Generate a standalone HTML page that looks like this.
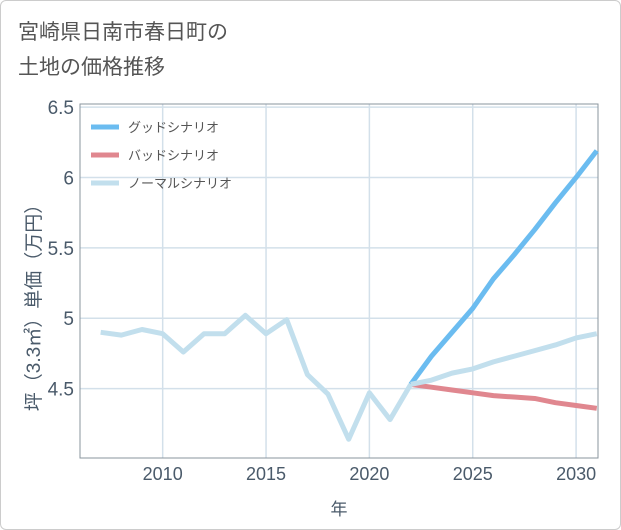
<!DOCTYPE html>
<html><head><meta charset="utf-8"><style>
body{margin:0;background:#fff;}
#wrap{position:relative;width:619px;height:528px;border:1px solid #ccc;border-radius:6px;background:#fff;font-family:"Liberation Sans","Noto Sans CJK JP",sans-serif;overflow:hidden}
#title{position:absolute;left:17px;top:14px;font-size:21px;line-height:35px;color:#555;}
svg{position:absolute;left:0;top:0}
</style></head><body>
<div id="wrap">
<div id="title">宮崎県日南市春日町の<br>土地の価格推移</div>
<svg id="chart" width="621" height="530"></svg>
</div>
<script>
const histYears=[2007,2008,2009,2010,2011,2012,2013,2014,2015,2016,2017,2018,2019,2020,2021,2022];
const histValues=[4.9,4.88,4.92,4.89,4.76,4.89,4.89,5.02,4.89,4.99,4.6,4.46,4.14,4.47,4.28,4.53];
const fcYears=[2022,2023,2024,2025,2026,2027,2028,2029,2030,2031];
const goodValues=[4.53,4.73,4.9,5.07,5.28,5.45,5.63,5.82,6.0,6.19];
const badValues=[4.53,4.51,4.49,4.47,4.45,4.44,4.43,4.40,4.38,4.36];
const normalValues=[4.53,4.56,4.61,4.64,4.69,4.73,4.77,4.81,4.86,4.89];
const yTicks=[4.5,5,5.5,6,6.5];
const xTicks=[2010,2015,2020,2025,2030];
const legendLabels=["グッドシナリオ","バッドシナリオ","ノーマルシナリオ"];
const L=79,R=597,T=103,B=457,xMin=2006.0,xMax=2031.06,yMin=4.007,yMax=6.522;
const X=v=>L+(v-xMin)/(xMax-xMin)*(R-L);
const Y=v=>B-(v-yMin)/(yMax-yMin)*(B-T);
const svg=document.getElementById('chart');const NS='http://www.w3.org/2000/svg';
function mk(t,a,p){const e=document.createElementNS(NS,t);for(const k in a)e.setAttribute(k,a[k]);(p||svg).appendChild(e);return e;}
yTicks.forEach(v=>{const g=mk('line',{x1:L,x2:R,y1:Y(v),y2:Y(v),stroke:'#d3e0ea','stroke-width':1.5});

const t=mk('text',{x:L-6,y:Y(v)+7,'text-anchor':'end','font-size':19,fill:'#4a5a6a'});t.textContent=String(v);
});
xTicks.forEach(v=>{const g=mk('line',{x1:X(v),x2:X(v),y1:T,y2:B,stroke:'#d3e0ea','stroke-width':1.5});

const t=mk('text',{x:X(v),y:B+22,'text-anchor':'middle','font-size':18,fill:'#4a5a6a'});t.textContent=String(v);
});
const ax=mk('path',{d:`M${L},${T}V${B}H${R}V${T}Z`,fill:'none',stroke:'#8a949e','stroke-width':1});

function line(xs,ys,c,name){const p=mk('polyline',{points:xs.map((x,i)=>X(x)+','+Y(ys[i])).join(' '),fill:'none',stroke:c,'stroke-width':5,'stroke-linejoin':'round'});
}
line(fcYears,badValues,'#e0878f','bad-scenario-line');
line(fcYears,goodValues,'#6bbcf0','good-scenario-line');
line(fcYears,normalValues,'#c2dfed','normal-scenario-line');
line(histYears,histValues,'#c2dfed','historical-line');
const cols=['#6bbcf0','#e0878f','#c2dfed'];
legendLabels.forEach((s,i)=>{const y=126+i*28;
const l=mk('line',{x1:90,x2:118,y1:y,y2:y,stroke:cols[i],'stroke-width':5});

const t=mk('text',{x:127,y:y+5,'font-size':13,fill:'#555'});t.textContent=s;
});
const xt=mk('text',{x:338,y:514,'text-anchor':'middle','font-size':17,fill:'#4a5a6a'});xt.textContent='年';

const yt=mk('text',{x:0,y:0,'text-anchor':'middle','font-size':19,fill:'#4a5a6a',transform:'translate(39,302) rotate(-90)'});yt.textContent='坪（3.3㎡）単価（万円）';

</script>
</body></html>
